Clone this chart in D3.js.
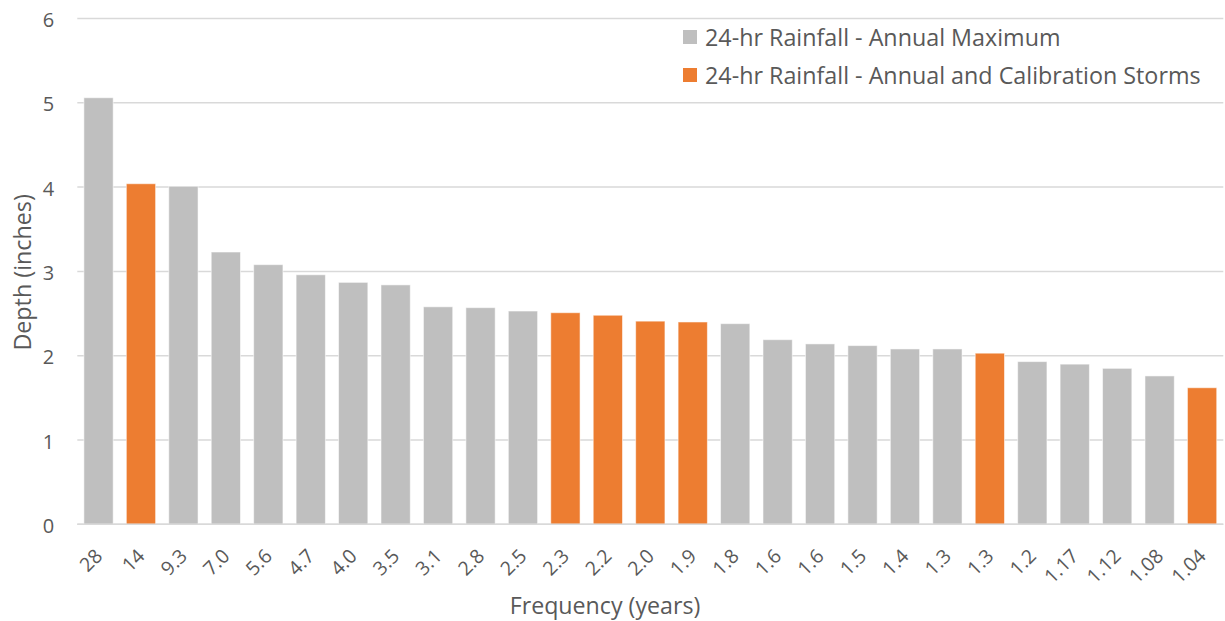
<!DOCTYPE html>
<html>
<head>
<meta charset="utf-8">
<script src="https://cdn.jsdelivr.net/npm/d3@7/dist/d3.min.js"></script>
<style>
  html, body { margin: 0; padding: 0; background: #fff; }
  svg { display: block; font-family: "Open Sans", Lato, sans-serif; }
</style>
</head>
<body>
<svg id="chart" width="1225" height="621"></svg>
<script>
// Return period of each storm (years), in plotted order
const frequencyLabels = ["28", "14", "9.3", "7.0", "5.6", "4.7", "4.0", "3.5", "3.1", "2.8", "2.5",
  "2.3", "2.2", "2.0", "1.9", "1.8", "1.6", "1.6", "1.5", "1.4", "1.3", "1.3", "1.2",
  "1.17", "1.12", "1.08", "1.04"];

// 24-hr rainfall depth (inches), annual maximum series
const annualMaxDepth = [5.06, null, 4.01, 3.23, 3.08, 2.96, 2.87, 2.84, 2.58, 2.57, 2.53,
  null, null, null, null, 2.38, 2.19, 2.14, 2.12, 2.08, 2.08, null, 1.93,
  1.90, 1.85, 1.76, null];

// 24-hr rainfall depth (inches), storms also used for calibration
const calibrationDepth = [null, 4.04, null, null, null, null, null, null, null, null, null,
  2.51, 2.48, 2.41, 2.40, null, null, null, null, null, null, 2.03, null,
  null, null, null, 1.62];

const yTicks = [0, 1, 2, 3, 4, 5, 6];

const seriesNames = ["24-hr Rainfall - Annual Maximum", "24-hr Rainfall - Annual and Calibration Storms"];
const seriesColors = ["#BFBFBF", "#ED7D31"];

const svg = d3.select("#chart");
const plot = { left: 77.3, right: 1223.3, top: 18.5, bottom: 524.3 };
const textColor = "#595959";
const gridColor = "#D9D9D9";
const fontFamily = "'Open Sans', Lato, sans-serif";

const idx = frequencyLabels.map((_, i) => i);
const x = d3.scaleBand().domain(idx).range([plot.left, plot.right])
  .paddingInner(0.31).paddingOuter(0.155);
const y = d3.scaleLinear().domain([0, 6]).range([plot.bottom, plot.top]);

// horizontal gridlines
svg.append("g").selectAll("line").data(yTicks).join("line")
  .attr("x1", plot.left).attr("x2", plot.right)
  .attr("y1", d => y(d)).attr("y2", d => y(d))
  .attr("stroke", gridColor).attr("stroke-width", 1.5);

// y axis labels
const yAxis = svg.append("g")
  .attr("transform", `translate(${plot.left},0)`)
  .call(d3.axisLeft(y).tickValues(yTicks).tickSize(0).tickPadding(23).tickFormat(d3.format("d")));
yAxis.select(".domain").remove();
yAxis.selectAll("text").attr("fill", textColor).style("font-size", "20px")
  .style("font-family", fontFamily).attr("dy", "0.4em");

// bars, one group per series
const series = [annualMaxDepth, calibrationDepth];
series.forEach((vals, s) => {
  svg.append("g").selectAll("rect")
    .data(vals.map((v, i) => ({ i, v })).filter(d => d.v != null))
    .join("rect")
    .attr("x", d => x(d.i))
    .attr("width", x.bandwidth())
    .attr("y", d => y(d.v))
    .attr("height", d => y(0) - y(d.v))
    .attr("fill", seriesColors[s])
    .attr("stroke", "rgba(255,255,255,0.55)")
    .attr("stroke-width", 1);
});

// x axis line
svg.append("line")
  .attr("x1", plot.left).attr("x2", plot.right)
  .attr("y1", y(0)).attr("y2", y(0))
  .attr("stroke", gridColor).attr("stroke-width", 1.5);

// x axis labels, rotated
const xAxis = svg.append("g")
  .attr("transform", `translate(0,${plot.bottom})`)
  .call(d3.axisBottom(x).tickSize(0).tickFormat(i => frequencyLabels[i]));
xAxis.select(".domain").remove();
xAxis.selectAll("text")
  .attr("fill", textColor)
  .style("font-size", "19.5px")
  .style("font-family", fontFamily)
  .attr("text-anchor", "end")
  .attr("dy", null)
  .attr("y", 0)
  .attr("transform", "translate(5,33) rotate(-45)");

// axis titles
svg.append("text")
  .attr("transform", `translate(31,${(plot.top + plot.bottom) / 2 + 1}) rotate(-90)`)
  .attr("text-anchor", "middle")
  .attr("fill", textColor).style("font-size", "23.3px")
  .text("Depth (inches)");

svg.append("text")
  .attr("x", 605).attr("y", 614)
  .attr("text-anchor", "middle")
  .attr("fill", textColor).style("font-size", "23.2px")
  .text("Frequency (years)");

// legend
const legend = svg.append("g").attr("transform", "translate(683,30)");
seriesNames.forEach((name, s) => {
  const g = legend.append("g").attr("transform", `translate(0,${s * 38})`);
  g.append("rect").attr("width", 14).attr("height", 14).attr("fill", seriesColors[s]);
  g.append("text").attr("x", 22).attr("y", 15.5)
    .attr("fill", textColor).style("font-size", "23.3px")
    .text(name);
});
</script>
</body>
</html>
